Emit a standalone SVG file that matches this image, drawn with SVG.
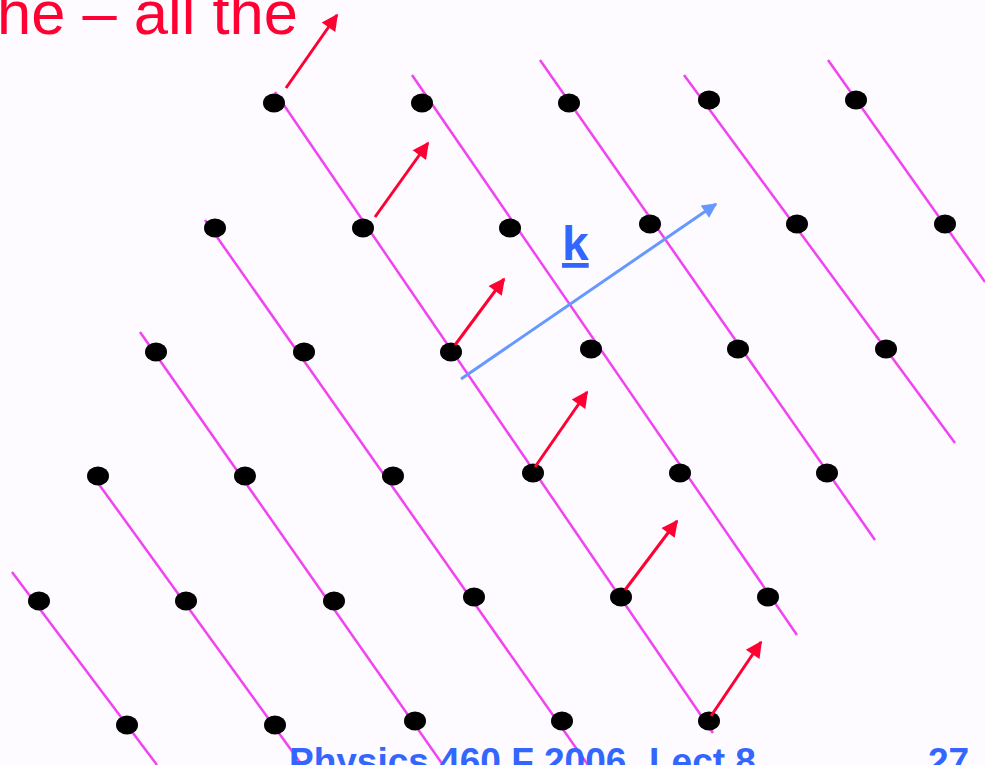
<svg xmlns="http://www.w3.org/2000/svg" width="985" height="765" viewBox="0 0 985 765">
<style>
.bg{fill:#fdfbff}
.ln{stroke:#f044f0;stroke-width:2.5;fill:none}
.dot{fill:#000}
.red{stroke:#ff0033;stroke-width:3;fill:none}
.kv{stroke:#6699ff;stroke-width:3;fill:none}
.title{font-family:"Liberation Sans",Arial,sans-serif;font-size:61.5px;fill:#ff0033}
.foot{font-family:"Liberation Sans",Arial,sans-serif;font-size:37px;font-weight:bold;fill:#3366ff}
.klabel{font-family:"Liberation Sans",Arial,sans-serif;font-size:48px;font-weight:bold;fill:#3366ff;text-decoration:underline}
</style>
<defs>
<marker id="ah-red" viewBox="0 0 10 10" refX="9" refY="5" markerWidth="6.5" markerHeight="5.5" orient="auto" markerUnits="strokeWidth">
<path d="M0,0 L10,5 L0,10 z" fill="#ff0033"/>
</marker>
<marker id="ah-blue" viewBox="0 0 10 10" refX="9" refY="5" markerWidth="6" markerHeight="5" orient="auto" markerUnits="strokeWidth">
<path d="M0,0 L10,5 L0,10 z" fill="#6699ff"/>
</marker>
</defs>
<rect class="bg" x="0" y="0" width="985" height="765"/>
<text class="title" x="-3" y="34">he – all the</text>
<g id="planes">
<line class="ln" x1="12" y1="572" x2="157" y2="765"/>
<line class="ln" x1="90" y1="472" x2="302" y2="765"/>
<line class="ln" x1="140" y1="332" x2="443" y2="765"/>
<line class="ln" x1="205" y1="220" x2="588" y2="765"/>
<line class="ln" x1="275" y1="92" x2="713" y2="733"/>
<line class="ln" x1="412" y1="75" x2="797" y2="635"/>
<line class="ln" x1="540" y1="60" x2="875" y2="540"/>
<line class="ln" x1="684" y1="75" x2="955" y2="443"/>
<line class="ln" x1="828" y1="60" x2="985" y2="282"/>
</g>
<g id="lattice">
<ellipse class="dot" cx="274" cy="103" rx="11" ry="9.5"/>
<ellipse class="dot" cx="422" cy="103" rx="11" ry="9.5"/>
<ellipse class="dot" cx="569" cy="103" rx="11" ry="9.5"/>
<ellipse class="dot" cx="709" cy="100" rx="11" ry="9.5"/>
<ellipse class="dot" cx="856" cy="100" rx="11" ry="9.5"/>
<ellipse class="dot" cx="215" cy="228" rx="11" ry="9.5"/>
<ellipse class="dot" cx="363" cy="228" rx="11" ry="9.5"/>
<ellipse class="dot" cx="510" cy="228" rx="11" ry="9.5"/>
<ellipse class="dot" cx="650" cy="224" rx="11" ry="9.5"/>
<ellipse class="dot" cx="797" cy="224" rx="11" ry="9.5"/>
<ellipse class="dot" cx="945" cy="224" rx="11" ry="9.5"/>
<ellipse class="dot" cx="156" cy="352" rx="11" ry="9.5"/>
<ellipse class="dot" cx="304" cy="352" rx="11" ry="9.5"/>
<ellipse class="dot" cx="451" cy="352" rx="11" ry="9.5"/>
<ellipse class="dot" cx="591" cy="349" rx="11" ry="9.5"/>
<ellipse class="dot" cx="738" cy="349" rx="11" ry="9.5"/>
<ellipse class="dot" cx="886" cy="349" rx="11" ry="9.5"/>
<ellipse class="dot" cx="98" cy="476" rx="11" ry="9.5"/>
<ellipse class="dot" cx="245" cy="476" rx="11" ry="9.5"/>
<ellipse class="dot" cx="393" cy="476" rx="11" ry="9.5"/>
<ellipse class="dot" cx="533" cy="473" rx="11" ry="9.5"/>
<ellipse class="dot" cx="680" cy="473" rx="11" ry="9.5"/>
<ellipse class="dot" cx="827" cy="473" rx="11" ry="9.5"/>
<ellipse class="dot" cx="39" cy="601" rx="11" ry="9.5"/>
<ellipse class="dot" cx="186" cy="601" rx="11" ry="9.5"/>
<ellipse class="dot" cx="334" cy="601" rx="11" ry="9.5"/>
<ellipse class="dot" cx="474" cy="597" rx="11" ry="9.5"/>
<ellipse class="dot" cx="621" cy="597" rx="11" ry="9.5"/>
<ellipse class="dot" cx="768" cy="597" rx="11" ry="9.5"/>
<ellipse class="dot" cx="127" cy="725" rx="11" ry="9.5"/>
<ellipse class="dot" cx="275" cy="725" rx="11" ry="9.5"/>
<ellipse class="dot" cx="415" cy="721" rx="11" ry="9.5"/>
<ellipse class="dot" cx="562" cy="721" rx="11" ry="9.5"/>
<ellipse class="dot" cx="709" cy="721" rx="11" ry="9.5"/>
</g>
<g id="connectors">
<line class="red" x1="286" y1="88" x2="337" y2="15" marker-end="url(#ah-red)"/>
<line class="red" x1="375" y1="217" x2="428" y2="143" marker-end="url(#ah-red)"/>
<line class="red" x1="455" y1="345" x2="504" y2="279" marker-end="url(#ah-red)"/>
<line class="red" x1="535" y1="467" x2="587" y2="392" marker-end="url(#ah-red)"/>
<line class="red" x1="625" y1="590" x2="677" y2="521" marker-end="url(#ah-red)"/>
<line class="red" x1="711" y1="716" x2="761" y2="642" marker-end="url(#ah-red)"/>
<line class="kv" x1="461" y1="379" x2="716" y2="204" marker-end="url(#ah-blue)"/>
</g>
<g id="k-label">
<text class="klabel" x="562" y="260">k</text>
</g>
<g id="footer">
<text class="foot" x="289" y="774">Physics 460 F 2006<tspan x="649">Lect 8</tspan></text>
<text class="foot" x="928" y="774">27</text>
</g>
</svg>
